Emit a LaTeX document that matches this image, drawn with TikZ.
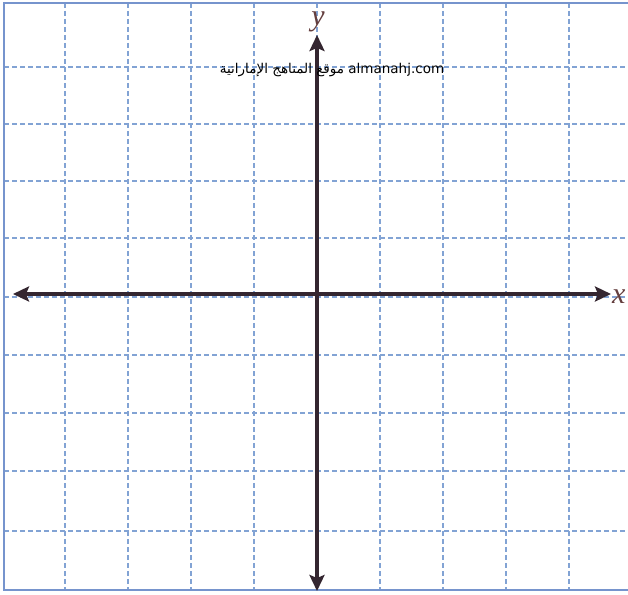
\documentclass[tikz,border=0pt]{standalone}
\usepackage{fontspec}
\newfontfamily\arabicfont[Script=Arabic]{DejaVu Sans}
\newfontfamily\labfont{Liberation Serif}
\TeXXeTstate=1
\usetikzlibrary{arrows.meta}

\definecolor{gridblue}{RGB}{130,163,212}
\definecolor{frameblue}{RGB}{118,148,205}
\definecolor{axisdark}{RGB}{52,38,48}
\definecolor{labelbrown}{RGB}{100,62,62}

\begin{document}
\begin{tikzpicture}[
  x=1pt, y=-1pt,
  gridline/.style={gridblue, line width=1.1pt, dash pattern=on 5pt off 3pt},
  frame/.style={frameblue, line width=1.6pt},
  axis/.style={axisdark, line width=3.8pt,
               {Stealth[length=16pt,width=15pt,inset=3pt]}-{Stealth[length=16pt,width=15pt,inset=3pt]}},
  axlab/.style={labelbrown, inner sep=0pt, font=\labfont\itshape\fontsize{30}{30}\selectfont},
  wmark/.style={inner sep=0pt, font=\arabicfont\fontsize{13.5}{15}\selectfont}
]
\useasboundingbox (0,0) rectangle (628,594);
\clip (0,0) rectangle (628,594);

% ---------- grid ----------
\foreach \gx in {65,128,191,254,317,380,443,506,569}
  \draw[gridline] (\gx,3) -- (\gx,590);
\foreach \gy in {67,124,181,238,297,355,413,471,531}
  \draw[gridline] (4,\gy) -- (628,\gy);
\draw[frame] (640,3) -- (4,3) -- (4,590) -- (640,590);

% ---------- axes ----------
\coordinate (xl) at (13,294);
\coordinate (xr) at (611,294);
\coordinate (yt) at (317,35);
\coordinate (yb) at (317,591);
\draw[axis] (xl) -- (xr);
\draw[axis] (yb) -- (yt);

\node[axlab, anchor=west] (xlab) at (612,297) {x};
\node[axlab, anchor=base] (ylab) at (318,26) {y};

% ---------- watermark ----------
\node[wmark] (site) at (332,70)
  {\beginR\beginL almanahj.com\endL{} موقع المناهج الإماراتية\endR};
\end{tikzpicture}
\end{document}
